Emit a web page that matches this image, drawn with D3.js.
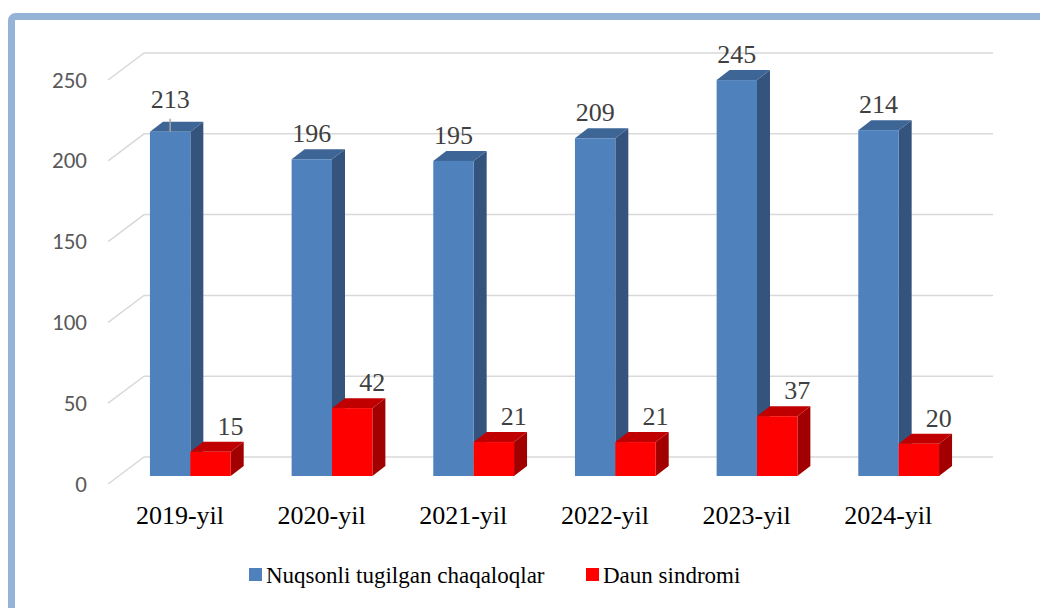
<!DOCTYPE html>
<html>
<head>
<meta charset="utf-8">
<script src="https://cdn.jsdelivr.net/npm/d3@7"></script>
<style>
  body { margin: 0; background: #fff; }
  svg { display: block; }
</style>
</head>
<body>
<div id="chart"></div>
<script>
var categories = ["2019-yil", "2020-yil", "2021-yil", "2022-yil", "2023-yil", "2024-yil"];
var seriesNames = ["Nuqsonli tugilgan chaqaloqlar", "Daun sindromi"];
var nuqsonli = [213, 196, 195, 209, 245, 214];
var daun = [15, 42, 21, 21, 37, 20];
var yTicks = [0, 50, 100, 150, 200, 250];

var width = 1040;
var height = 608;
var serif = "'Liberation Serif', 'Times New Roman', serif";
var sans = "Carlito, 'Liberation Sans', Arial, sans-serif";

// 3D offsets
var depth = { dx: 13, dy: -10 };      // bar depth
var wallBack = { dx: 24.6, dy: -19 }; // bar plane -> back wall
var wallFront = { dx: -10.4, dy: 8 }; // bar plane -> front floor edge

var colors = [
    { front: "#4F81BD", top: "#3D6595", side: "#34547D" },
    { front: "#FF0000", top: "#C00000", side: "#A20000" }
];

var svg = d3.select("#chart").append("svg")
    .attr("width", width)
    .attr("height", height);

function txt(sel, family, size) {
    return sel.style("font-family", family, "important")
        .style("font-size", size + "px", "important");
}

svg.append("rect")
    .attr("x", 11.5)
    .attr("y", 16.5)
    .attr("width", width + 20)
    .attr("height", height + 20)
    .attr("rx", 4)
    .attr("fill", "none")
    .attr("stroke", "#95B3D7")
    .attr("stroke-width", 7);

var x = d3.scaleBand()
    .domain(categories)
    .range([119.5, 969.5])
    .paddingInner(0.43)
    .paddingOuter(0.215);

var xs = d3.scaleBand()
    .domain(seriesNames)
    .range([0, x.bandwidth()]);

var y = d3.scaleLinear()
    .domain([0, 250])
    .range([476, 72]);

var x0 = x.range()[0], x1 = x.range()[1];

// gridlines: back wall + side wall
var grid = svg.append("g").attr("stroke", "#D9D9D9").attr("stroke-width", 1.5).attr("fill", "none");
yTicks.forEach(function(t) {
    var yb = y(t) + wallBack.dy;
    var xb = x0 + wallBack.dx;
    grid.append("path")
        .attr("d", "M" + (x0 + wallFront.dx - 1) + "," + (y(t) + wallFront.dy) +
            "L" + xb + "," + yb + "L" + (x1 + wallBack.dx - 1) + "," + yb);
});

// y axis labels
txt(svg.append("g").selectAll("text")
    .data(yTicks)
    .enter().append("text"), sans, 23)
    .attr("x", 87)
    .attr("y", function(d) { return y(d) + wallFront.dy + 7.5; })
    .attr("text-anchor", "end")
    .attr("fill", "#595959")
    .text(function(d) { return d; });

var data = [];
categories.forEach(function(c, i) {
    data.push({ c: c, s: 0, v: nuqsonli[i] });
    data.push({ c: c, s: 1, v: daun[i] });
});

var bars = svg.append("g");
data.forEach(function(d) {
    var bx = x(d.c) + xs(seriesNames[d.s]);
    var bw = xs.bandwidth();
    var top = y(d.v), base = y(0);
    var col = colors[d.s];
    var g = bars.append("g");
    g.append("path")
        .attr("d", "M" + (bx + bw) + "," + base + "L" + (bx + bw + depth.dx) + "," + (base + depth.dy) +
            "L" + (bx + bw + depth.dx) + "," + (top + depth.dy) + "L" + (bx + bw) + "," + top + "Z")
        .attr("fill", col.side);
    g.append("path")
        .attr("d", "M" + bx + "," + top + "L" + (bx + depth.dx) + "," + (top + depth.dy) +
            "L" + (bx + bw + depth.dx) + "," + (top + depth.dy) + "L" + (bx + bw) + "," + top + "Z")
        .attr("fill", col.top);
    g.append("rect")
        .attr("x", bx)
        .attr("y", top)
        .attr("width", bw)
        .attr("height", base - top)
        .attr("fill", col.front);
});

// data labels
data.forEach(function(d, i) {
    var bx = x(d.c) + xs(seriesNames[d.s]);
    var cx = bx + xs.bandwidth() / 2 + (d.s === 1 ? 20 : 0);
    var lift = (i === 0) ? 24 : 17;
    if (i === 0) {
        svg.append("line")
            .attr("x1", cx).attr("x2", cx)
            .attr("y1", y(d.v) - 13).attr("y2", y(d.v))
            .attr("stroke", "#A6A6A6").attr("stroke-width", 1.5);
    }
    txt(svg.append("text"), serif, 26)
        .attr("x", cx)
        .attr("y", y(d.v) - lift)
        .attr("text-anchor", "middle")
        .attr("fill", "#404040")
        .text(d.v);
});

// category labels
txt(svg.append("g").selectAll("text")
    .data(categories)
    .enter().append("text"), serif, 26)
    .attr("x", function(d) { return x(d) + x.bandwidth() / 2 + wallFront.dx; })
    .attr("y", 524)
    .attr("text-anchor", "middle")
    .attr("fill", "#000")
    .text(function(d) { return d; });

// legend
var legendX = [249, 586];
seriesNames.forEach(function(s, i) {
    svg.append("rect")
        .attr("x", legendX[i])
        .attr("y", 568)
        .attr("width", 13)
        .attr("height", 13)
        .attr("fill", colors[i].front);
    txt(svg.append("text"), serif, 23)
        .attr("x", legendX[i] + 17)
        .attr("y", 583)
        .attr("fill", "#000")
        .text(s);
});
</script>
</body>
</html>
